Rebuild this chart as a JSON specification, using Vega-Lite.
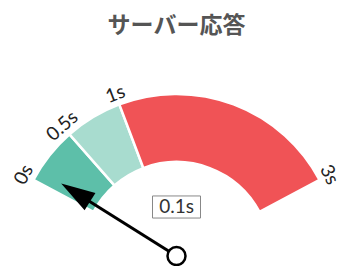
{
  "$schema": "https://vega.github.io/schema/vega-lite/v6.json",
  "width": 345,
  "height": 218,
  "autosize": {"type": "none"},
  "padding": {"top": 48, "left": 0, "right": 0, "bottom": 0},
  "background": "white",
  "config": {"view": {"stroke": null}},
  "title": {
    "text": "サーバー応答",
    "font": "Noto Sans CJK JP",
    "fontSize": 23,
    "fontWeight": "bold",
    "color": "#555555",
    "anchor": "middle",
    "dx": 4,
    "offset": 10
  },
  "datasets": {
    "bands": [
      {"band": "good", "start": 0, "end": 0.5},
      {"band": "ok", "start": 0.5, "end": 1},
      {"band": "slow", "start": 1, "end": 3}
    ],
    "ticks": [
      {"v": 0, "label": "0s"},
      {"v": 0.5, "label": "0.5s"},
      {"v": 1, "label": "1s"},
      {"v": 3, "label": "3s"}
    ],
    "needle": [{"value": 0.1}]
  },
  "layer": [
    {
      "data": {"name": "bands"},
      "mark": {"type": "arc", "outerRadius": 162, "innerRadius": 94, "stroke": "white", "strokeWidth": 2.5},
      "encoding": {
        "x": {"datum": 0, "type": "quantitative", "scale": {"domain": [-1.09627, 1.04658], "nice": false, "zero": false}, "axis": null},
        "y": {"datum": 0, "type": "quantitative", "scale": {"domain": [-0.0621, 1.2919], "nice": false, "zero": false}, "axis": null},
        "theta": {"field": "start", "type": "quantitative", "scale": {"domain": [0, 3], "range": [-1.0821, 1.0821], "zero": false, "nice": false}},
        "theta2": {"field": "end"},
        "color": {"field": "band", "type": "nominal", "scale": {"domain": ["good", "ok", "slow"], "range": ["#5dbfa9", "#a8dccf", "#f05356"]}, "legend": null}
      }
    },
    {
      "data": {"name": "ticks"},
      "mark": {"type": "text", "radius": 173, "align": "center", "baseline": "middle", "font": "Lato", "fontSize": 19, "color": "#222222"},
      "encoding": {
        "x": {"datum": 0, "type": "quantitative"},
        "y": {"datum": 0, "type": "quantitative"},
        "theta": {"field": "v", "type": "quantitative"},
        "angle": {"field": "v", "type": "quantitative", "scale": {"domain": [0, 3], "range": [-62, 62], "zero": false, "nice": false}},
        "text": {"field": "label"}
      }
    },
    {
      "data": {"name": "needle"},
      "transform": [
        {"calculate": "(datum.value / 3) * 2.1642 - 1.0821", "as": "ang"},
        {"calculate": "0", "as": "cx"},
        {"calculate": "0.66 * sin(datum.ang)", "as": "bx"},
        {"calculate": "0.66 * cos(datum.ang)", "as": "by"},
        {"calculate": "0.74 * sin(datum.ang)", "as": "hx"},
        {"calculate": "0.74 * cos(datum.ang)", "as": "hy"},
        {"calculate": "format(datum.value, '.1f') + 's'", "as": "label"}
      ],
      "layer": [
        {
          "mark": {"type": "rule", "color": "black", "strokeWidth": 3},
          "encoding": {
            "x": {"field": "cx", "type": "quantitative"},
            "y": {"field": "cx", "type": "quantitative"},
            "x2": {"field": "bx"},
            "y2": {"field": "by"}
          }
        },
        {
          "mark": {"type": "point", "shape": "M0,-1L0.6,1L-0.6,1Z", "size": 1156, "filled": true, "color": "black", "opacity": 1},
          "encoding": {
            "x": {"field": "hx", "type": "quantitative"},
            "y": {"field": "hy", "type": "quantitative"},
            "angle": {"field": "value", "type": "quantitative"}
          }
        },
        {
          "mark": {"type": "point", "shape": "circle", "size": 324, "filled": true, "fill": "white", "stroke": "black", "strokeWidth": 2.5, "opacity": 1},
          "encoding": {
            "x": {"field": "cx", "type": "quantitative"},
            "y": {"field": "cx", "type": "quantitative"}
          }
        },
        {
          "mark": {"type": "point", "shape": "M-1,-0.46H1V0.46H-1Z", "size": 2304, "filled": true, "fill": "white", "stroke": "#888888", "strokeWidth": 1, "opacity": 1, "yOffset": -49},
          "encoding": {
            "x": {"field": "cx", "type": "quantitative"},
            "y": {"field": "cx", "type": "quantitative"}
          }
        },
        {
          "mark": {"type": "text", "font": "Lato", "fontSize": 19, "color": "#333333", "align": "center", "baseline": "middle", "dy": -49},
          "encoding": {
            "x": {"field": "cx", "type": "quantitative"},
            "y": {"field": "cx", "type": "quantitative"},
            "text": {"field": "label"}
          }
        }
      ]
    }
  ]
}
